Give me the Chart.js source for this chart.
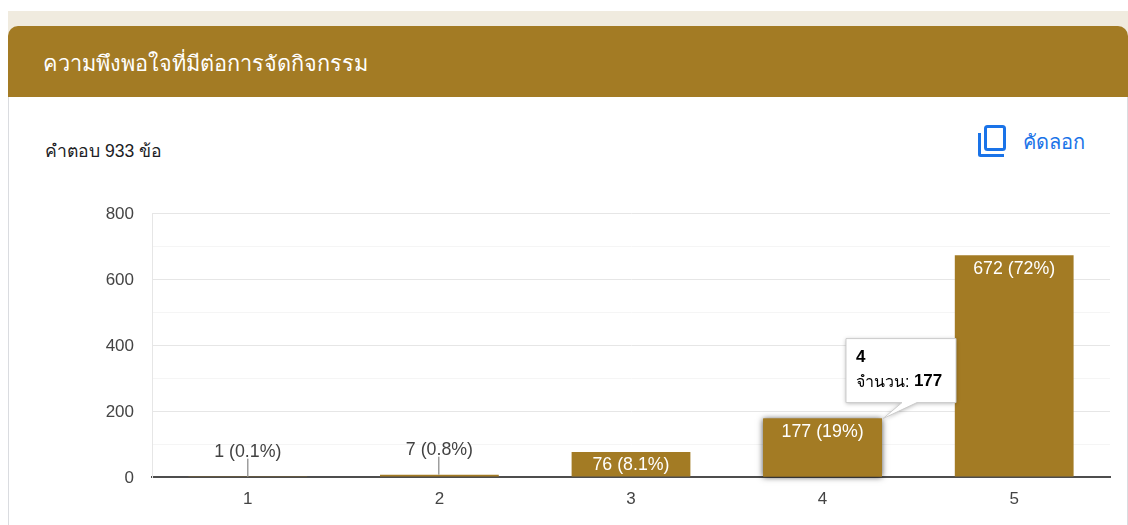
<!DOCTYPE html>
<html lang="th">
<head>
<meta charset="utf-8">
<title>ความพึงพอใจที่มีต่อการจัดกิจกรรม</title>
<script src="https://cdn.jsdelivr.net/npm/chart.js@4"></script>
<style>
html,body{margin:0;padding:0;background:#fff;width:1128px;height:525px;overflow:hidden;font-family:"Liberation Sans",Arial,sans-serif}
#strip{position:absolute;left:8px;top:11px;width:1120px;height:30px;background:#f0ebdf}
#card{position:absolute;left:8px;top:97px;width:1118px;height:428px;background:#fff;border-left:1px solid #dadce0;border-right:1px solid #dadce0}
#head{position:absolute;left:8px;top:26px;width:1120px;height:71px;background:#a37b24;border-radius:10px 10px 0 0}
#title{position:absolute;left:43px;top:49px;color:#fff;font-size:21.7px;line-height:30px;white-space:nowrap}
#count{position:absolute;left:45px;top:140px;color:#202124;font-size:17.6px;line-height:22px;white-space:nowrap}
#copy{position:absolute;left:1023px;top:128px;color:#1a73e8;font-size:20px;line-height:28px;white-space:nowrap}
#icon{position:absolute;left:976px;top:123px}
#wrap{position:absolute;left:0;top:0;width:1128px;height:525px}
</style>
</head>
<body>
<div id="strip"></div>
<div id="head"></div>
<div id="card"></div>
<div id="title">ความพึงพอใจที่มีต่อการจัดกิจกรรม</div>
<div id="count">คำตอบ 933 ข้อ</div>
<svg id="icon" width="32" height="36" viewBox="0 0 32 36" fill="none" stroke="#1a73e8" stroke-width="3">
<rect x="9.5" y="3.5" width="19" height="23" rx="2"/>
<path d="M3.5 10v21.5a1 1 0 0 0 1 1H28"/>
</svg>
<div id="copy">คัดลอก</div>
<div id="wrap"><canvas id="c" width="1128" height="525"></canvas></div>
<script>
const categories = ['1','2','3','4','5'];
const counts = [1,7,76,177,672];
const percents = ['0.1%','0.8%','8.1%','19%','72%'];
const yMax = 800;
const yStep = 100;
const yLabelStep = 200;
const tooltipCategory = '4';
const tooltipSeries = 'จำนวน';
const tooltipIndex = 3;

const GOLD = '#a37b24';
const FONT = '"Liberation Sans", Arial, sans-serif';

const decorations = {
  id:'decorations',
  beforeDatasetsDraw(chart){
    const ctx = chart.ctx;
    const b = chart.getDatasetMeta(0).data[tooltipIndex];
    ctx.save();
    ctx.shadowColor='rgba(0,0,0,0.7)';
    ctx.shadowBlur=6;
    ctx.fillStyle=GOLD;
    ctx.fillRect(b.x-b.width/2,b.y,b.width,b.base-b.y);
    ctx.restore();
  },
  afterDatasetsDraw(chart){
    const ctx = chart.ctx;
    const bars = chart.getDatasetMeta(0).data;
    ctx.save();
    ctx.font='17.8px '+FONT;
    ctx.textAlign='center';
    ctx.textBaseline='middle';
    bars.forEach((b,i)=>{
      const text = counts[i]+' ('+percents[i]+')';
      if (b.base-b.y>20){
        ctx.fillStyle='#ffffff';
        ctx.fillText(text,b.x,b.y+13.5);
      } else {
        ctx.fillStyle='#9e9e9e';
        ctx.fillRect(Math.round(b.x)-1,b.y-18,1.5,18);
        ctx.fillStyle='#424242';
        ctx.fillText(text,b.x,b.y-25);
      }
    });
    // hover tooltip, anchored to the hovered bar's top right corner
    const t = bars[tooltipIndex];
    const tipX = t.x+t.width/2+1, tipY = t.y;
    const L=tipX-37, T=tipY-80, W=110, H=64;
    ctx.save();
    ctx.beginPath();
    ctx.moveTo(L,T);ctx.lineTo(L+W,T);ctx.lineTo(L+W,T+H);
    ctx.lineTo(tipX+34,T+H);ctx.lineTo(tipX,tipY);ctx.lineTo(tipX+19,T+H);
    ctx.lineTo(L,T+H);ctx.closePath();
    ctx.shadowColor='rgba(0,0,0,0.3)';ctx.shadowBlur=4;ctx.shadowOffsetY=1;
    ctx.fillStyle='#fff';ctx.fill();
    ctx.shadowColor='transparent';
    ctx.strokeStyle='#cccccc';ctx.lineWidth=1;ctx.stroke();
    ctx.restore();
    ctx.textAlign='left';
    ctx.fillStyle='#000';
    ctx.font='bold 17px '+FONT;
    ctx.fillText(tooltipCategory,L+10,T+19);
    ctx.font='16px '+FONT;
    const lead=tooltipSeries+': ';
    ctx.fillText(lead,L+10,T+44);
    const w=ctx.measureText(lead).width;
    ctx.font='bold 17px '+FONT;
    ctx.fillText(String(counts[tooltipIndex]),L+10+w,T+43);
    ctx.restore();
  }
};

new Chart(document.getElementById('c'),{
  type:'bar',
  data:{labels:categories,datasets:[{label:tooltipSeries,data:counts,backgroundColor:GOLD,categoryPercentage:1,barPercentage:0.62}]},
  plugins:[decorations],
  options:{
    responsive:false,
    animation:false,
    events:[],
    layout:{padding:{left:0,right:18,top:213,bottom:0}},
    plugins:{legend:{display:false},tooltip:{enabled:false},title:{display:false}},
    scales:{
      x:{
        afterFit(s){s.height=48;},
        grid:{display:false,drawTicks:false},
        border:{display:true,color:'#4d4d4d',width:2},
        ticks:{color:'#444444',font:{family:FONT,size:17},padding:12}
      },
      y:{
        min:0,max:yMax,
        afterFit(s){s.width=152;},
        border:{display:true,color:'#e6e6e6',width:1},
        grid:{drawTicks:false,color(c){return c.tick.value%yLabelStep===0?'#e6e6e6':'#f5f5f5';}},
        ticks:{stepSize:yStep,autoSkip:false,color:'#444444',font:{family:FONT,size:17},padding:18,labelOffset:1.5,
          callback(v){return v%yLabelStep===0?String(v):'';}}
      }
    }
  }
});
</script>
</body>
</html>
